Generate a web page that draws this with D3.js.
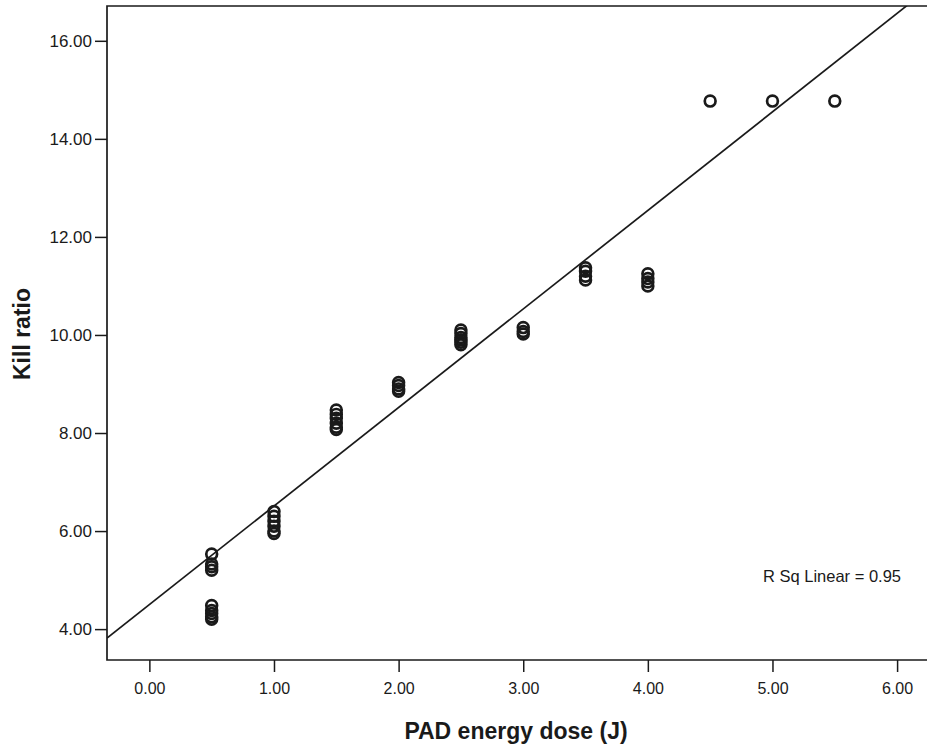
<!DOCTYPE html>
<html>
<head>
<meta charset="utf-8">
<script src="https://cdn.jsdelivr.net/npm/d3@7"></script>
<style>
  html, body { margin: 0; padding: 0; background: #fff; }
  svg { display: block; }
  text { font-family: "Liberation Sans", Arial, sans-serif; fill: #1a1a1a; }
</style>
</head>
<body>
<script>
// ---- data ----
const doses = [0.5, 1.0, 1.5, 2.0, 2.5, 3.0, 3.5, 4.0, 4.5, 5.0, 5.5];
const killRatios = [
  [5.53, 5.33, 5.27, 5.20, 4.48, 4.38, 4.32, 4.25, 4.20],
  [6.40, 6.30, 6.20, 6.10, 6.00, 5.95],
  [8.47, 8.38, 8.30, 8.20, 8.12, 8.07],
  [9.03, 8.97, 8.90, 8.85],
  [10.10, 10.03, 9.95, 9.90, 9.85, 9.80],
  [10.15, 10.07, 10.02],
  [11.37, 11.30, 11.20, 11.12],
  [11.25, 11.15, 11.08, 11.00],
  [14.77],
  [14.77],
  [14.77]
];
const xTicks = [0, 1, 2, 3, 4, 5, 6];
const yTicks = [4, 6, 8, 10, 12, 14, 16];
const fitIntercept = 4.50;
const fitSlope = 2.01;
const rSqLabel = "R Sq Linear = 0.95";
const xTitle = "PAD energy dose (J)";
const yTitle = "Kill ratio";

(function () {
// ---- layout ----
const W = 927, H = 745;
const mL = 107, mR = 927, mT = 6, mB = 660;

const svg = d3.select("body").append("svg").attr("width", W).attr("height", H);

const x = d3.scaleLinear().domain([-0.34, 6.24]).range([mL, mR]);
const y = d3.scaleLinear().domain([3.37, 16.71]).range([mB, mT]);

// clip
svg.append("clipPath").attr("id", "plotclip")
  .append("rect").attr("x", mL).attr("y", mT).attr("width", mR - mL).attr("height", mB - mT);

// frame (top, left, bottom)
svg.append("path")
  .attr("d", `M${mR + 5},${mT}H${mL}V${mB}H${mR + 5}`)
  .attr("fill", "none").attr("stroke", "#1a1a1a").attr("stroke-width", 1.7);

// axes
const xAxis = d3.axisBottom(x).tickValues(xTicks).tickSize(12).tickPadding(6)
  .tickFormat(d3.format(".2f"));
const gx = svg.append("g").attr("transform", `translate(0,${mB})`).call(xAxis);
gx.select(".domain").remove();
gx.selectAll(".tick line").attr("stroke", "#1a1a1a").attr("stroke-width", 1.5);
gx.selectAll(".tick text").attr("font-size", 16)
  .attr("font-family", "'Liberation Sans', Arial, sans-serif")
  .attr("dy", "0.71em").attr("y", 23);

const yAxis = d3.axisLeft(y).tickValues(yTicks).tickSize(12).tickPadding(3)
  .tickFormat(d3.format(".2f"));
const gy = svg.append("g").attr("transform", `translate(${mL},0)`).call(yAxis);
gy.select(".domain").remove();
gy.selectAll(".tick line").attr("stroke", "#1a1a1a").attr("stroke-width", 1.5);
gy.selectAll(".tick text").attr("font-size", 17);

// regression line
const plot = svg.append("g").attr("clip-path", "url(#plotclip)");
const xd = x.domain();
plot.append("line")
  .attr("x1", x(xd[0])).attr("y1", y(fitIntercept + fitSlope * xd[0]))
  .attr("x2", x(xd[1])).attr("y2", y(fitIntercept + fitSlope * xd[1]))
  .attr("stroke", "#1a1a1a").attr("stroke-width", 1.7);

// points
const pts = [];
doses.forEach((d, i) => killRatios[i].forEach(v => pts.push({d, v})));
plot.selectAll("circle.pt").data(pts).enter().append("circle")
  .attr("class", "pt")
  .attr("cx", p => x(p.d)).attr("cy", p => y(p.v))
  .attr("r", 5.4)
  .attr("fill", "none").attr("stroke", "#1a1a1a").attr("stroke-width", 2.7);

// R sq label
svg.append("text").attr("x", 832).attr("y", 582).attr("text-anchor", "middle")
  .attr("font-size", 16.5).text(rSqLabel);

// titles
svg.append("text").attr("x", 516).attr("y", 739).attr("text-anchor", "middle")
  .attr("font-size", 23).attr("font-weight", "bold").text(xTitle);
svg.append("text").attr("transform", `translate(30,334) rotate(-90)`).attr("text-anchor", "middle")
  .attr("font-size", 23).attr("font-weight", "bold").text(yTitle);
})();
</script>
</body>
</html>
